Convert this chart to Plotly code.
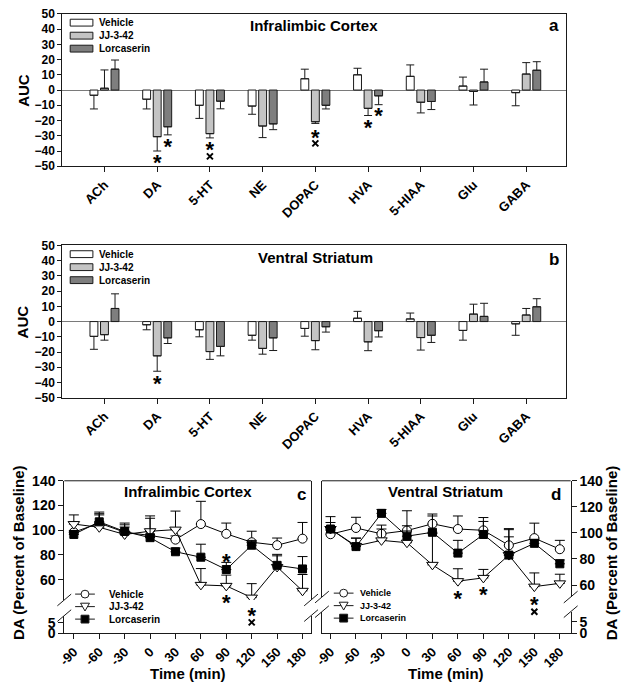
import plotly.graph_objects as go

# ---------------- data ----------------
categories = ["ACh", "DA", "5-HT", "NE", "DOPAC", "HVA", "5-HIAA", "Glu", "GABA"]
groups = ["Vehicle", "JJ-3-42", "Lorcaserin"]

# panel a : Infralimbic Cortex (AUC)
il_vehicle = [-3.4, -6.0, -10.0, -10.5, 7.4, 10.0, 9.0, 2.6, -1.7]
il_vehicle_err = [9.0, 6.4, 8.6, 5.4, 6.3, 4.3, 7.5, 5.9, 8.6]
il_jj = [1.2, -30.6, -28.6, -23.6, -20.8, -12.0, -8.0, -0.9, 10.5]
il_jj_err = [12.0, 9.4, 2.8, 7.6, 1.1, 4.7, 7.0, 8.9, 7.5]
il_lorc = [13.7, -24.1, -7.3, -22.2, -10.0, -3.8, -7.5, 5.3, 13.0]
il_lorc_err = [6.0, 5.3, 5.0, 3.8, 2.4, 5.8, 5.3, 8.4, 5.6]

# panel b : Ventral Striatum (AUC)
vs_vehicle = [-9.7, -2.1, -5.4, -9.0, -4.5, 2.2, 1.7, -5.8, -1.5]
vs_vehicle_err = [8.5, 3.3, 4.6, 3.2, 5.1, 4.5, 3.9, 6.4, 7.5]
vs_jj = [-8.6, -22.5, -19.7, -17.6, -12.5, -13.3, -10.5, 4.9, 4.3]
vs_jj_err = [3.6, 10.1, 5.1, 3.8, 6.0, 5.8, 8.2, 6.5, 4.3]
vs_lorc = [8.6, -10.7, -16.3, -10.7, -3.4, -6.0, -9.0, 3.4, 9.7]
vs_lorc_err = [9.6, 3.7, 6.2, 8.3, 3.5, 4.1, 4.7, 8.6, 5.3]

# significance marks on bar panels (category index + bar offset, AUC position)
star_a_x = [1.0, 1.2, 2.0, 4.0, 5.0, 5.2]
star_a_y = [-45.0, -34.5, -36.3, -28.2, -22.0, -14.0]
xmark_a_x = [2.0, 4.0]
xmark_a_y = [-43.5, -35.0]
star_b_x = [1.0]
star_b_y = [-38.0]
xmark_b_x = []
xmark_b_y = []

# panels c/d : DA time course (percent of baseline)
times = [-90, -60, -30, 0, 30, 60, 90, 120, 150, 180]
c_vehicle = [98.4, 105.8, 98.4, 95.8, 92.4, 105.0, 97.1, 90.3, 87.9, 93.2]
c_vehicle_err = [8.0, 7.6, 6.0, 4.0, 3.0, 18.4, 8.7, 8.9, 5.8, 13.1]
c_jj = [105.0, 102.4, 96.6, 99.2, 100.5, 55.8, 55.0, 45.5, 70.3, 51.0]
c_jj_err = [7.4, 10.0, 6.0, 12.4, 15.0, 13.2, 8.7, 11.3, 9.0, 13.2]
c_lorc = [96.6, 106.8, 99.0, 94.0, 82.6, 78.2, 68.2, 87.9, 71.6, 68.7]
c_lorc_err = [3.0, 7.9, 6.8, 15.7, 3.0, 10.5, 5.8, 3.9, 8.9, 10.0]

d_vehicle = [99.0, 103.8, 99.3, 101.8, 107.0, 103.0, 102.0, 90.5, 96.0, 87.5]
d_vehicle_err = [3.0, 8.2, 6.7, 15.2, 7.5, 10.0, 9.8, 12.8, 11.5, 6.8]
d_jj = [103.0, 90.0, 94.3, 92.5, 75.5, 63.0, 65.5, 83.0, 58.8, 61.3]
d_jj_err = [9.5, 6.0, 8.7, 9.0, 24.0, 9.5, 6.5, 14.0, 10.5, 7.0]
d_lorc = [103.0, 89.5, 115.0, 97.5, 100.5, 84.5, 98.8, 83.0, 92.0, 76.3]
d_lorc_err = [5.0, 6.5, 3.0, 8.0, 12.5, 9.8, 10.0, 19.5, 3.0, 3.0]

# significance marks on time courses (minutes, percent scale extended below the break)
star_c_x = [90, 90, 120]
star_c_y = [78.6, 45.0, 34.7]
xmark_c_x = [120]
xmark_c_y = [25.5]
star_d_x = [60, 90, 150]
star_d_y = [53.0, 56.0, 48.5]
xmark_d_x = [150]
xmark_d_y = [39.5]

# ---------------- styling helpers ----------------
W, H = 625, 691
FONT = "Liberation Sans, Arial, sans-serif"
INK = "#1a1a1a"
bar_fills = ["#ffffff", "#c4c4c4", "#7e7e7e"]


def px(x):
    return x / W


def py(y):
    return 1 - y / H


def bfont(size):
    return dict(family=FONT, size=size, color="black", weight="bold")


fig = go.Figure()

# ---------------- bar panels ----------------
bar_sets = [
    ("x", "y", [(il_vehicle, il_vehicle_err), (il_jj, il_jj_err), (il_lorc, il_lorc_err)]),
    ("x2", "y2", [(vs_vehicle, vs_vehicle_err), (vs_jj, vs_jj_err), (vs_lorc, vs_lorc_err)]),
]
for xa, ya, series in bar_sets:
    for (vals, errs), name, fill in zip(series, groups, bar_fills):
        fig.add_trace(go.Bar(
            x=list(range(len(categories))), y=vals, name=name,
            xaxis=xa, yaxis=ya, showlegend=False,
            marker=dict(color=fill, line=dict(color=INK, width=1)),
            error_y=dict(type="data", symmetric=False,
                         array=[e if v >= 0 else 0 for v, e in zip(vals, errs)],
                         arrayminus=[e if v < 0 else 0 for v, e in zip(vals, errs)],
                         color=INK, thickness=1, width=4),
        ))

# ---------------- time course panels (upper + lower segment of broken axis) ----------------
line_styles = [
    dict(symbol="circle", color="white", size=9),
    dict(symbol="triangle-down", color="white", size=10),
    dict(symbol="square", color="black", size=8),
]
ts_sets = [
    ("x3", ["y3", "y4"], [(c_vehicle, c_vehicle_err), (c_jj, c_jj_err), (c_lorc, c_lorc_err)]),
    ("x4", ["y5", "y6"], [(d_vehicle, d_vehicle_err), (d_jj, d_jj_err), (d_lorc, d_lorc_err)]),
]
for xa, yas, series in ts_sets:
    for ya in yas:
        for (vals, errs), name, st in zip(series, groups, line_styles):
            fig.add_trace(go.Scatter(
                x=times, y=vals, name=name, mode="lines+markers",
                xaxis=xa, yaxis=ya, showlegend=False,
                line=dict(color="black", width=1),
                marker=dict(symbol=st["symbol"], size=st["size"], color=st["color"],
                            line=dict(color="black", width=1)),
                error_y=dict(type="data", symmetric=False, array=errs,
                             arrayminus=[0] * len(errs), color="black", thickness=1, width=5),
            ))

# ---------------- axes ----------------
layout_axes = {}
bar_x_common = dict(range=[-0.8, 8.75], tickvals=list(range(len(categories))), ticktext=categories,
                    tickangle=-45, ticks="outside", ticklen=5, tickcolor=INK, showline=True,
                    mirror=True, linecolor=INK, linewidth=1, showgrid=False, zeroline=False,
                    tickfont=bfont(13), domain=[px(55), px(565)])
bar_y_common = dict(range=[-50, 50], dtick=10, ticks="outside", ticklen=4, tickcolor=INK,
                    showline=True, mirror=True, linecolor=INK, linewidth=1, showgrid=False,
                    zeroline=True, zerolinecolor="#7a7a7a", zerolinewidth=1, tickfont=bfont(12))
layout_axes["xaxis"] = dict(bar_x_common, anchor="y")
layout_axes["yaxis"] = dict(bar_y_common, anchor="x", domain=[py(162), py(6)])
layout_axes["xaxis2"] = dict(bar_x_common, anchor="y2")
layout_axes["yaxis2"] = dict(bar_y_common, anchor="x2", domain=[py(399), py(243)])

ts_x_common = dict(tickvals=times, ticktext=[str(t) for t in times], tickangle=-45,
                   ticks="outside", ticklen=5, tickcolor=INK, showline=True, linecolor=INK,
                   linewidth=1, showgrid=False, zeroline=False, tickfont=bfont(13))
ts_y_common = dict(ticks="outside", ticklen=5, tickcolor=INK, showline=True, mirror=True,
                   linecolor=INK, linewidth=1, showgrid=False, zeroline=False, tickfont=bfont(14))

C_TOP, C_BREAK_HI, C_BREAK_LO, C_BOT = 484, 606, 622, 640
D_TOP, D_BREAK_HI, D_BREAK_LO, D_BOT = 484, 603, 618, 640
c_upper = [43.6, 140]
d_upper = [50.8, 140]
layout_axes["xaxis3"] = dict(ts_x_common, anchor="y4", domain=[px(57), px(307)], range=[-101.3, 190.1])
layout_axes["yaxis3"] = dict(ts_y_common, anchor="x3", domain=[py(C_BREAK_HI), py(C_TOP)],
                             range=c_upper, tickvals=[60, 80, 100, 120, 140])
layout_axes["yaxis4"] = dict(ts_y_common, anchor="x3", domain=[py(C_BOT), py(C_BREAK_LO)],
                             range=[0, 8.4], tickvals=[0, 5])
layout_axes["xaxis4"] = dict(ts_x_common, anchor="y6", domain=[px(318), px(570)], range=[-100.1, 192.8])
layout_axes["yaxis5"] = dict(ts_y_common, anchor="x4", side="right", domain=[py(D_BREAK_HI), py(D_TOP)],
                             range=d_upper, tickvals=[60, 80, 100, 120, 140])
layout_axes["yaxis6"] = dict(ts_y_common, anchor="x4", side="right", domain=[py(D_BOT), py(D_BREAK_LO)],
                             range=[0, 9.4], tickvals=[0, 5])


def extended(upper, top, brk, bot):
    # same percent scale as the upper segment, continued down to the panel bottom
    ppu = (brk - top) / (upper[1] - upper[0])
    return [upper[1] - (bot - top) / ppu, upper[1]]


# hidden axes used only to place the significance marks of panels c and d
layout_axes["yaxis7"] = dict(visible=False, anchor="x3", domain=[py(C_BOT), py(C_TOP)],
                             range=extended(c_upper, C_TOP, C_BREAK_HI, C_BOT))
layout_axes["yaxis8"] = dict(visible=False, anchor="x4", domain=[py(D_BOT), py(D_TOP)],
                             range=extended(d_upper, D_TOP, D_BREAK_HI, D_BOT))

# ---------------- significance marks ----------------
STAR_LIFT_PX = 6.5  # the asterisk glyph sits above the text anchor point


def px_per_unit(ax):
    d0, d1 = ax["domain"]
    r0, r1 = ax["range"]
    return (d1 - d0) * H / (r1 - r0)


for sx, sy, mx_, my_, xa, ya in [
        (star_a_x, star_a_y, xmark_a_x, xmark_a_y, "x", "y"),
        (star_b_x, star_b_y, xmark_b_x, xmark_b_y, "x2", "y2"),
        (star_c_x, star_c_y, xmark_c_x, xmark_c_y, "x3", "y7"),
        (star_d_x, star_d_y, xmark_d_x, xmark_d_y, "x4", "y8")]:
    lift = STAR_LIFT_PX / px_per_unit(layout_axes["yaxis" + ya[1:]])
    fig.add_trace(go.Scatter(
        x=sx, y=[v - lift for v in sy], mode="text", text=["*"] * len(sx),
        textposition="middle center", textfont=bfont(22), xaxis=xa, yaxis=ya,
        cliponaxis=False, showlegend=False, hoverinfo="skip"))
    if mx_:
        fig.add_trace(go.Scatter(
            x=mx_, y=my_, mode="markers", xaxis=xa, yaxis=ya, cliponaxis=False,
            marker=dict(symbol="x-thin-open", size=6, color="black",
                        line=dict(color="black", width=2)),
            showlegend=False, hoverinfo="skip"))

# ---------------- shapes (frames, break marks, legend swatches) ----------------
shapes = []


def pline(x0, y0, x1, y1, w=1):
    shapes.append(dict(type="line", xref="paper", yref="paper", x0=px(x0), y0=py(y0),
                       x1=px(x1), y1=py(y1), line=dict(color=INK, width=w)))


# top borders of c and d
pline(57, C_TOP, 307, C_TOP)
pline(318, D_TOP, 570, D_TOP)
# axis-break marks
for xb, (g0, g1) in [(57, (C_BREAK_HI, C_BREAK_LO)), (307, (C_BREAK_HI, C_BREAK_LO)),
                     (318, (D_BREAK_HI, D_BREAK_LO)), (570, (D_BREAK_HI, D_BREAK_LO))]:
    for yb in (g0, g1):
        pline(xb - 7, yb + 6, xb + 7, yb - 6)

annotations = []


def ptext(x, y, text, size, xanchor="center", angle=0, yanchor="middle"):
    annotations.append(dict(xref="paper", yref="paper", x=px(x), y=py(y), text=text,
                            showarrow=False, font=bfont(size), xanchor=xanchor,
                            yanchor=yanchor, textangle=angle))


# bar legends (panels a, b)
for y0 in (15, 252):
    for i, (name, fill) in enumerate(zip(groups, bar_fills)):
        yc = y0 + i * 13.3
        shapes.append(dict(type="rect", xref="paper", yref="paper", x0=px(63), x1=px(86),
                           y0=py(yc + 3.5), y1=py(yc - 3.5), fillcolor=fill,
                           line=dict(color=INK, width=1)))
        ptext(90, yc, name, 10, xanchor="left")

# time-course legends (panels c, d)
for (lx0, lx1, tx, y0, fs) in [(68, 88, 100, 600, 10), (330, 350, 355, 599, 9)]:
    for i, name in enumerate(groups):
        yc = y0 + i * 12.8
        mx = (lx0 + lx1) / 2
        pline(lx0, yc, lx1, yc)
        if i == 0:
            shapes.append(dict(type="circle", xref="paper", yref="paper", x0=px(mx - 4),
                               x1=px(mx + 4), y0=py(yc + 4), y1=py(yc - 4), fillcolor="white",
                               line=dict(color=INK, width=1)))
        elif i == 1:
            path = "M{:.5f},{:.5f} L{:.5f},{:.5f} L{:.5f},{:.5f} Z".format(
                px(mx - 4.5), py(yc - 3.5), px(mx + 4.5), py(yc - 3.5), px(mx), py(yc + 4.5))
            shapes.append(dict(type="path", xref="paper", yref="paper", path=path,
                               fillcolor="white", line=dict(color=INK, width=1)))
        else:
            shapes.append(dict(type="rect", xref="paper", yref="paper", x0=px(mx - 4),
                               x1=px(mx + 4), y0=py(yc + 4), y1=py(yc - 4), fillcolor="black",
                               line=dict(color=INK, width=1)))
        ptext(tx, yc, name, fs, xanchor="left")

# titles and labels
ptext(310, 18, "Infralimbic Cortex", 15)
ptext(553, 18, "a", 17)
ptext(311, 255, "Ventral Striatum", 15)
ptext(553, 257, "b", 17)
ptext(182, 495, "Infralimbic Cortex", 15)
ptext(297, 498, "c", 17)
ptext(443, 495, "Ventral Striatum", 15)
ptext(555, 498, "d", 17)
ptext(15, 84, "AUC", 15, angle=-90)
ptext(15, 321, "AUC", 15, angle=-90)
ptext(10, 557, "DA (Percent of Baseline)", 15, angle=-90)
ptext(611, 558, "DA (Percent of Baseline)", 15, angle=-90)
ptext(182, 681, "Time (min)", 15)
ptext(444, 681, "Time (min)", 15)

fig.update_layout(
    width=W, height=H, margin=dict(l=0, r=0, t=0, b=0),
    paper_bgcolor="white", plot_bgcolor="rgba(0,0,0,0)",
    barmode="group", bargap=0.4, bargroupgap=0.25,
    showlegend=False, shapes=shapes, annotations=annotations,
    font=dict(family=FONT, color="black"),
    **layout_axes,
)

fig.write_html("out.html", config={"displayModeBar": False},
               post_script="document.body.style.margin='0px';document.documentElement.style.overflow='hidden';")
